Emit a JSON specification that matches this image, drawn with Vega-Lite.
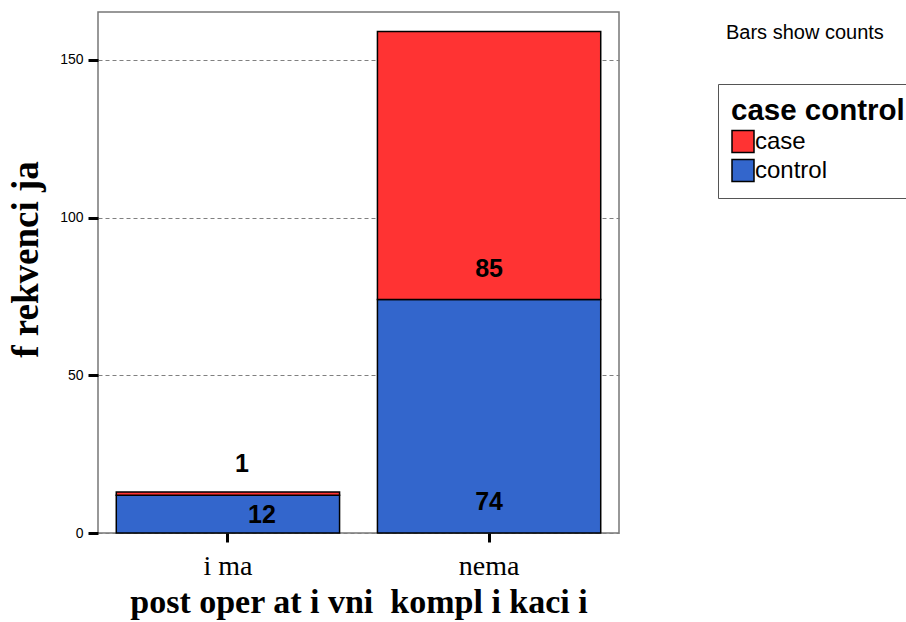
{
  "$schema": "https://vega.github.io/schema/vega-lite/v6.json",
  "width": 521,
  "height": 521,
  "autosize": {"type": "none"},
  "padding": {"left": 98, "top": 12, "right": 287, "bottom": 89},
  "background": "white",
  "title": {"text": "Bars show counts", "anchor": "start", "frame": "group", "orient": "top", "dx": 628, "dy": 31, "offset": 0, "font": "Liberation Sans", "fontSize": 20, "fontWeight": "normal", "color": "black"},
  "data": {"values": [
    {"komplikacii": "i ma", "group": "control", "count": 12},
    {"komplikacii": "i ma", "group": "case", "count": 1},
    {"komplikacii": "nema", "group": "control", "count": 74},
    {"komplikacii": "nema", "group": "case", "count": 85}
  ]},
  "encoding": {
    "x": {"field": "komplikacii", "type": "nominal", "sort": ["i ma", "nema"],
      "scale": {"paddingInner": 0.145, "paddingOuter": 0.07},
      "title": "post oper at i vni\u00a0\u00a0kompl i kaci i",
      "axis": {"domain": false, "grid": false, "ticks": true, "tickColor": "black", "tickWidth": 3, "tickSize": 9,
        "labelFont": "Liberation Serif", "labelFontSize": 28, "labelColor": "black", "labelPadding": 10, "labelAngle": 0,
        "titleFont": "Liberation Serif", "titleFontSize": 34, "titleFontWeight": "bold", "titleColor": "black", "titlePadding": 5}}
  },
  "layer": [
    {
      "mark": {"type": "bar", "stroke": "black", "strokeWidth": 1.5},
      "encoding": {
        "y": {"field": "count", "type": "quantitative", "stack": "zero",
          "scale": {"domain": [0, 165.2], "nice": false},
          "title": "f rekvenci ja",
          "axis": {"values": [0, 50, 100, 150], "domain": false, "grid": true, "gridDash": [4, 3], "gridColor": "#808080", "gridWidth": 1,
            "ticks": true, "tickColor": "black", "tickWidth": 3, "tickSize": 10,
            "labelFont": "Liberation Sans", "labelFontSize": 14, "labelColor": "black", "labelPadding": 5,
            "titleFont": "Liberation Serif", "titleFontSize": 37, "titleFontWeight": "bold", "titleColor": "black", "titlePadding": 14, "titleY": 247}},
        "color": {"field": "group", "type": "nominal",
          "scale": {"domain": ["case", "control"], "range": ["#FF3333", "#3366CC"]},
          "legend": {"orient": "none", "legendX": 620, "legendY": 72, "title": "case control",
            "titleFont": "Liberation Sans", "titleFontSize": 29.5, "titleFontWeight": "bold", "titleColor": "black", "titlePadding": 3, "titleLimit": 400,
            "labelFont": "Liberation Sans", "labelFontSize": 24, "labelColor": "black", "labelOffset": 0, "labelLimit": 300,
            "symbolType": "square", "symbolSize": 484, "symbolStrokeColor": "black", "symbolStrokeWidth": 1.5, "symbolOpacity": 1,
            "strokeColor": "#555", "fillColor": "white", "padding": 13, "rowPadding": 1}},
        "order": {"field": "group", "sort": "descending"}
      }
    },
    {
      "transform": [
        {"stack": "count", "groupby": ["komplikacii"], "sort": [{"field": "group", "order": "descending"}], "as": ["y0", "y1"]},
        {"filter": "datum.komplikacii == 'nema'"}
      ],
      "mark": {"type": "text", "font": "Liberation Sans", "fontSize": 25, "fontWeight": "bold", "color": "black", "baseline": "middle", "dy": -31},
      "encoding": {
        "y": {"field": "y0", "type": "quantitative", "title": "f rekvenci ja"},
        "text": {"field": "count", "type": "quantitative"}
      }
    },
    {
      "transform": [
        {"stack": "count", "groupby": ["komplikacii"], "sort": [{"field": "group", "order": "descending"}], "as": ["y0", "y1"]},
        {"filter": "datum.komplikacii == 'i ma' && datum.group == 'case'"}
      ],
      "mark": {"type": "text", "font": "Liberation Sans", "fontSize": 25, "fontWeight": "bold", "color": "black", "baseline": "middle", "dy": -31, "dx": 14},
      "encoding": {
        "y": {"field": "y0", "type": "quantitative", "title": "f rekvenci ja"},
        "text": {"field": "count", "type": "quantitative"}
      }
    },
    {
      "transform": [
        {"stack": "count", "groupby": ["komplikacii"], "sort": [{"field": "group", "order": "descending"}], "as": ["y0", "y1"]},
        {"filter": "datum.komplikacii == 'i ma' && datum.group == 'control'"}
      ],
      "mark": {"type": "text", "font": "Liberation Sans", "fontSize": 25, "fontWeight": "bold", "color": "black", "baseline": "middle", "dy": -18, "dx": 34},
      "encoding": {
        "y": {"field": "y0", "type": "quantitative", "title": "f rekvenci ja"},
        "text": {"field": "count", "type": "quantitative"}
      }
    }
  ],
  "config": {"view": {"stroke": "#777", "strokeWidth": 1.5}}
}
